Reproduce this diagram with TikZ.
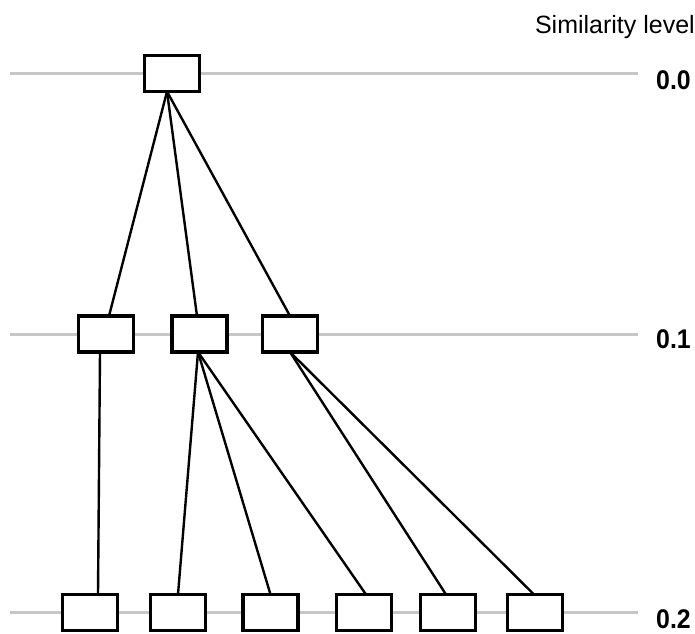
\documentclass[tikz,border=0pt]{standalone}
\usepackage{fontspec}
\setmainfont{Liberation Sans}
\newcommand{\levelvalue}[1]{\scalebox{0.92}[1]{#1}}
\begin{document}
\begin{tikzpicture}[x=1pt,y=-1pt,
  levelline/.style={draw=black!22, line width=3pt},
  cluster/.style={draw=black, fill=white, line width=3.3pt,
    minimum width=55pt, minimum height=36pt, inner sep=0pt, outer sep=0pt},
  link/.style={draw=black, line width=2.4pt},
  levellabel/.style={font=\bfseries\fontsize{27}{27}\selectfont,
    anchor=west, inner sep=0pt},
  caption/.style={font=\fontsize{25}{25}\selectfont, anchor=base east, inner sep=0pt}]

\useasboundingbox (0,0) rectangle (695,633);

% similarity levels
\draw[levelline] (10,73.5) -- (638,73.5);
\draw[levelline] (10,334) -- (638,334);
\draw[levelline] (10,612.5) -- (638,612.5);

\node[caption] (title) at (695,33) {Similarity level};
\node[levellabel] (l0) at (656,80) {\levelvalue{0.0}};
\node[levellabel] (l1) at (656,339) {\levelvalue{0.1}};
\node[levellabel] (l2) at (656,619) {\levelvalue{0.2}};

% clusters
\node[cluster] (root) at (172,73.5) {};

\node[cluster] (a) at (106,334) {};
\node[cluster] (b) at (199.5,334) {};
\node[cluster] (c) at (290,334) {};

\node[cluster] (a1) at (90,612.5) {};
\node[cluster] (b1) at (178,612.5) {};
\node[cluster] (b2) at (270.5,612.5) {};
\node[cluster] (b3) at (364,612.5) {};
\node[cluster] (c1) at (448,612.5) {};
\node[cluster] (c2) at (535,612.5) {};

% merges between levels
\draw[link] ([xshift=-5pt]root.south) -- ([xshift=3pt]a.north);
\draw[link] ([xshift=-5pt]root.south) -- ([xshift=-2.5pt]b.north);
\draw[link] ([xshift=-5pt]root.south) -- (c.north);

\draw[link] ([xshift=-6pt]a.south) -- ([xshift=8pt]a1.north);
\draw[link] ([xshift=-1.5pt]b.south) -- (b1.north);
\draw[link] ([xshift=-1.5pt]b.south) -- (b2.north);
\draw[link] ([xshift=-1.5pt]b.south) -- ([xshift=2pt]b3.north);
\draw[link] (c.south) -- ([xshift=-2pt]c1.north);
\draw[link] (c.south) -- ([xshift=-1pt]c2.north);
\end{tikzpicture}
\end{document}
